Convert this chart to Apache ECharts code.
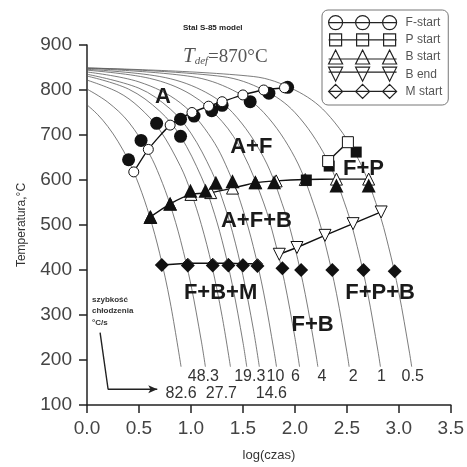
<!DOCTYPE html>
<html>
<head>
<meta charset="utf-8">
<script src="https://cdn.jsdelivr.net/npm/echarts@6/dist/echarts.min.js"></script>
<style>
  html, body { margin: 0; padding: 0; background: #fff; }
  #chart { width: 467px; height: 467px; }
</style>
</head>
<body>
<div id="chart"></div>
<script>
// cooling rates, °C/s (one curve each)
const rates = ['82.6', '48.3', '27.7', '19.3', '14.6', '10', '6', '4', '2', '1', '0.5'];

// cooling curves: [log(czas), temperature]
const curve826 = [[0, 767], [0.1, 746], [0.2, 719], [0.3, 685], [0.4, 643], [0.5, 589], [0.6, 521], [0.7, 436], [0.8, 329], [0.905, 185]];
const curve483 = [[0, 802], [0.2, 773], [0.4, 729], [0.6, 658], [0.7, 608], [0.8, 545], [0.9, 466], [1.0, 367], [1.1, 242], [1.139, 185]];
const curve277 = [[0, 822], [0.3, 795], [0.5, 762], [0.7, 711], [0.9, 630], [1.0, 573], [1.1, 501], [1.2, 411], [1.3, 297], [1.38, 185]];
const curve193 = [[0, 831], [0.4, 802], [0.7, 753], [0.9, 697], [1.1, 607], [1.2, 544], [1.3, 465], [1.4, 365], [1.5, 240], [1.537, 185]];
const curve146 = [[0, 835], [0.5, 804], [0.8, 758], [1.0, 704], [1.2, 619], [1.3, 559], [1.4, 484], [1.5, 388], [1.6, 269], [1.658, 185]];
const curve10 = [[0, 840], [0.5, 818], [0.9, 771], [1.2, 692], [1.4, 599], [1.5, 534], [1.6, 452], [1.7, 349], [1.8, 219], [1.823, 185]];
const curve6 = [[0, 844], [0.6, 826], [1.0, 790], [1.3, 730], [1.5, 660], [1.7, 549], [1.8, 471], [1.9, 374], [2.0, 250], [2.045, 185]];
const curve4 = [[0, 846], [0.7, 830], [1.1, 800], [1.4, 750], [1.7, 650], [1.9, 532], [2.0, 450], [2.1, 346], [2.2, 216], [2.221, 185]];
const curve2 = [[0, 848], [1.0, 830], [1.4, 800], [1.7, 750], [2.0, 650], [2.2, 533], [2.3, 451], [2.4, 348], [2.5, 218], [2.522, 185]];
const curve1 = [[0, 849], [1.3, 830], [1.7, 800], [2.0, 750], [2.3, 650], [2.5, 534], [2.6, 452], [2.7, 349], [2.8, 219], [2.823, 185]];
const curve05 = [[0, 849], [1.6, 830], [2.0, 800], [2.3, 750], [2.6, 651], [2.8, 535], [2.9, 453], [3.0, 350], [3.1, 220], [3.124, 185]];
const curves = [curve826, curve483, curve277, curve193, curve146, curve10, curve6, curve4, curve2, curve1, curve05];

// transformation lines (open markers)
const fStart = [[0.45, 618], [0.59, 668], [0.80, 722], [1.01, 750], [1.17, 764], [1.30, 774], [1.50, 789], [1.70, 800], [1.90, 805]];
const pStart = [[2.32, 642], [2.51, 684]];
const bStart = [[0.61, 518], [0.80, 547], [1.0, 568], [1.19, 572], [1.40, 582], [1.62, 594], [1.82, 598], [2.10, 601], [2.40, 602], [2.71, 602]];
const bEnd = [[1.85, 435], [2.02, 450], [2.29, 477], [2.56, 503], [2.83, 529]];
const mStart = [[0.72, 411], [0.97, 415], [1.21, 415], [1.36, 415], [1.50, 414], [1.64, 414]];

// measured points (filled markers)
const fMeas = [[0.40, 645], [0.52, 688], [0.67, 726], [0.90, 697], [0.90, 735], [1.03, 742], [1.20, 754], [1.30, 766], [1.57, 774], [1.75, 793], [1.93, 806]];
const pMeas = [[2.11, 600], [2.33, 631], [2.59, 662]];
const bMeas = [[0.61, 518], [0.80, 547], [0.995, 576], [1.14, 576], [1.24, 594], [1.40, 597], [1.62, 595], [1.80, 595], [2.40, 588], [2.71, 588]];
const mMeas = [[0.72, 411], [0.97, 410], [1.21, 410], [1.36, 410], [1.50, 410], [1.64, 409], [1.88, 404], [2.06, 400], [2.36, 400], [2.66, 400], [2.96, 397]];

// phase field labels
const regionNames = ['A', 'A+F', 'F+P', 'A+F+B', 'F+B+M', 'F+P+B', 'F+B'];
const regionX = [0.73, 1.58, 2.66, 1.63, 1.285, 2.82, 2.17];
const regionT = [785, 673, 624, 510, 349, 349, 278];

// arrow pointing at the rate labels
const arrowPath = [[0.126, 261], [0.203, 135], [0.676, 135]];

const legendNames = ['F-start', 'P start', 'B start', 'B end', 'M start'];

// legend icons: line with three markers, drawn 68 x 14
const iconCircle = 'path://M0 7A7 7 0 1 1 14 7A7 7 0 1 1 0 7ZM27 7A7 7 0 1 1 41 7A7 7 0 1 1 27 7ZM54 7A7 7 0 1 1 68 7A7 7 0 1 1 54 7ZM0 7L68 7';
const iconRect = 'path://M1 1H13V13H1ZM28 1H40V13H28ZM55 1H67V13H55ZM0 7L68 7M0 0M68 14';
const iconTri = 'path://M7 0L14 14L0 14ZM34 0L41 14L27 14ZM61 0L68 14L54 14ZM0 9L68 9';
const iconTriDown = 'path://M0 0L14 0L7 14ZM27 0L41 0L34 14ZM54 0L68 0L61 14ZM0 5L68 5';
const iconDiamond = 'path://M7 0L14 7L7 14L0 7ZM34 0L41 7L34 14L27 7ZM61 0L68 7L61 14L54 7ZM0 7L68 7';

const chart = echarts.init(document.getElementById('chart'));

const curveSeries = curves.map((c, i) => ({
  name: 'v' + rates[i],
  type: 'line',
  data: c,
  smooth: 0.35,
  symbol: 'none',
  silent: true,
  z: 1,
  lineStyle: { color: '#5a5a5a', width: 0.8 }
}));

// rate labels under the curve ends; three of them sit in a lower row
const labelOffsets = [[0, 27], [-2, 10], [-9, 27], [3, 10], [12, 27], [-1, 10], [-4, 10], [4, 10], [4, 10], [1, 10], [1, 10]];
const rateLabelSeries = {
  type: 'scatter',
  silent: true,
  symbolSize: 0,
  z: 5,
  itemStyle: { opacity: 1 },
  data: curves.map((c, i) => ({
    value: c[c.length - 1],
    label: {
      show: true,
      formatter: rates[i],
      position: 'inside',
      offset: labelOffsets[i],
      fontSize: 16,
      color: '#333',
      fontFamily: 'Liberation Sans'
    }
  }))
};

function openLine(name, data, symbol, size, z, extra) {
  return Object.assign({
    name: name,
    type: 'line',
    data: data,
    smooth: 0.2,
    symbol: symbol,
    symbolSize: size,
    showAllSymbol: true,
    z: z,
    lineStyle: { color: '#111', width: 1.4 },
    itemStyle: { color: '#fff', borderColor: '#111', borderWidth: 1 }
  }, extra || {});
}

function filled(data, symbol, size, z) {
  return {
    type: 'scatter',
    data: data,
    symbol: symbol,
    symbolSize: size,
    z: z,
    itemStyle: { color: '#111', opacity: 1 }
  };
}

chart.setOption({
  backgroundColor: '#fff',
  animation: false,
  title: [
    {
      text: 'Stal S-85 model',
      left: 183, top: 24, padding: 0,
      textStyle: { fontSize: 8, fontWeight: 'bold', color: '#222', fontFamily: 'Liberation Sans' }
    },
    {
      text: '{t|T}{s|def}{n|=870°C}',
      left: 183, top: 45, padding: 0,
      textStyle: {
        fontWeight: 'normal',
        rich: {
          t: { fontFamily: 'Liberation Serif', fontStyle: 'italic', fontWeight: 'normal', fontSize: 21, color: '#555', verticalAlign: 'bottom', lineHeight: 22 },
          s: { fontFamily: 'Liberation Serif', fontStyle: 'italic', fontWeight: 'normal', fontSize: 11, color: '#555', verticalAlign: 'bottom', lineHeight: 10 },
          n: { fontFamily: 'Liberation Serif', fontWeight: 'normal', fontSize: 19, color: '#555', verticalAlign: 'bottom', lineHeight: 22 }
        }
      }
    }
  ],
  legend: {
    orient: 'vertical',
    left: 322, top: 10,
    padding: [5, 6, 6, 6],
    itemGap: 2,
    itemWidth: 68,
    itemHeight: 14,
    borderColor: '#777',
    borderWidth: 1,
    borderRadius: 6,
    selectedMode: false,
    itemStyle: { color: '#fff', borderColor: '#222', borderWidth: 1.2 },
    textStyle: { fontSize: 12, color: '#555', fontFamily: 'Liberation Sans Narrow, Liberation Sans', padding: [0, 0, 0, 4] },
    data: [
      { name: legendNames[0], icon: iconCircle },
      { name: legendNames[1], icon: iconRect },
      { name: legendNames[2], icon: iconTri },
      { name: legendNames[3], icon: iconTriDown },
      { name: legendNames[4], icon: iconDiamond }
    ]
  },
  grid: { left: 87, right: 16, top: 45, bottom: 59 },
  xAxis: {
    type: 'value',
    min: 0, max: 3.5, interval: 0.5,
    name: 'log(czas)',
    nameLocation: 'middle',
    nameGap: 44,
    nameTextStyle: { fontSize: 13, color: '#333', fontFamily: 'Liberation Sans' },
    axisLine: { lineStyle: { color: '#222', width: 1.5 } },
    axisTick: { length: 8, lineStyle: { color: '#222', width: 1.5 } },
    axisLabel: { fontSize: 19, color: '#444', margin: 14, fontFamily: 'Liberation Sans', formatter: v => v.toFixed(1) },
    splitLine: { show: false }
  },
  yAxis: {
    type: 'value',
    min: 100, max: 900, interval: 100,
    name: 'Temperatura,°C',
    nameLocation: 'middle',
    nameGap: 59,
    nameTextStyle: { fontSize: 12, color: '#333', fontFamily: 'Liberation Sans' },
    axisLine: { show: true, lineStyle: { color: '#222', width: 1.5 } },
    axisTick: { show: true, length: 8, lineStyle: { color: '#222', width: 1.5 } },
    axisLabel: { fontSize: 19, color: '#444', margin: 15, fontFamily: 'Liberation Sans' },
    splitLine: { show: false }
  },
  series: [
    ...curveSeries,
    rateLabelSeries,
    filled(fMeas, 'circle', 13, 3),
    filled(pMeas, 'rect', 11, 3),
    filled(bMeas, 'triangle', 14, 4),
    filled(mMeas, 'diamond', 14, 4),
    openLine(legendNames[0], fStart, 'circle', 10, 4),
    openLine(legendNames[1], pStart, 'rect', 11, 4, { smooth: false }),
    openLine(legendNames[2], bStart, 'triangle', 12, 2),
    openLine(legendNames[3], bEnd, 'triangle', 12, 4, { symbolRotate: 180, smooth: false }),
    openLine(legendNames[4], mStart, 'diamond', 10, 3, { smooth: false }),
    {
      type: 'scatter',
      silent: true,
      symbolSize: 0,
      z: 5,
      itemStyle: { opacity: 1 },
      data: regionNames.map((n, i) => ({ value: [regionX[i], regionT[i]], name: n })),
      label: {
        show: true, position: 'inside', formatter: '{b}',
        fontSize: 22, fontWeight: 'bold', color: '#1a1a1a', fontFamily: 'Liberation Sans'
      }
    },
    {
      type: 'line',
      silent: true,
      z: 5,
      data: arrowPath.map((p, i) => ({
        value: p,
        symbol: i === arrowPath.length - 1 ? 'arrow' : 'none',
        symbolSize: [6, 9],
        symbolRotate: -90
      })),
      showAllSymbol: true,
      lineStyle: { color: '#222', width: 1.4 },
      itemStyle: { color: '#222' },
      label: { show: false }
    },
    {
      type: 'scatter',
      silent: true,
      symbolSize: 0,
      z: 5,
      itemStyle: { opacity: 1 },
      data: [{ value: [0.048, 309], name: 'szybkość\nchłodzenia\n°C/s' }],
      label: {
        show: true, position: 'right', distance: 0, formatter: '{b}', align: 'left',
        fontSize: 8, fontWeight: 'bold', lineHeight: 11.5, color: '#333', fontFamily: 'Liberation Sans'
      }
    }
  ]
});
</script>
</body>
</html>
